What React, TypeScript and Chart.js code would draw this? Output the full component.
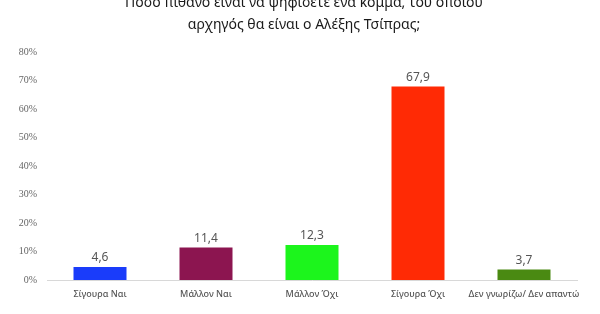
import React, { useEffect, useRef } from "react";
import { Chart, registerables } from "chart.js";

Chart.register(...registerables);

const titleLines = [
  "Πόσο πιθανό είναι να ψηφίσετε ένα κόμμα, του οποίου",
  "αρχηγός θα είναι ο Αλέξης Τσίπρας;",
];
const categories = ["Σίγουρα Ναι", "Μάλλον Ναι", "Μάλλον Όχι", "Σίγουρα Όχι", "Δεν γνωρίζω/ Δεν απαντώ"];
const values = [4.6, 11.4, 12.3, 67.9, 3.7];
const barColors = ["#1a3cfa", "#8c1550", "#1cf51c", "#ff2a05", "#4a8a12"];
const yMax = 80;
const yStep = 10;

const titlePlugin = {
  id: "customTitle",
  afterDraw(chart: any) {
    const ctx = chart.ctx;
    ctx.save();
    ctx.fillStyle = "#1a1a1a";
    ctx.font = "14px 'Noto Sans'";
    ctx.textAlign = "center";
    ctx.textBaseline = "middle";
    titleLines.forEach((t, i) => ctx.fillText(t, 304, 3 + i * 22));
    ctx.restore();
  },
};

const valueLabels = {
  id: "valueLabels",
  afterDatasetsDraw(chart: any) {
    const ctx = chart.ctx;
    const meta = chart.getDatasetMeta(0);
    ctx.save();
    ctx.fillStyle = "#555";
    ctx.font = "12px 'Noto Sans'";
    ctx.textAlign = "center";
    ctx.textBaseline = "bottom";
    meta.data.forEach((el: any, i: number) => {
      const v = chart.data.datasets[0].data[i];
      ctx.fillText(String(v).replace(".", ","), el.x, el.y - 3);
    });
    ctx.restore();
  },
};

export default function App() {
  const ref = useRef<HTMLCanvasElement>(null);
  useEffect(() => {
    document.body.style.margin = "0";
    const chart = new Chart(ref.current!, {
      type: "bar",
      data: {
        labels: categories,
        datasets: [
          {
            data: values,
            backgroundColor: barColors,
            categoryPercentage: 1,
            barPercentage: 0.5,
          },
        ],
      },
      options: {
        animation: false,
        responsive: false,
        layout: { padding: { top: 52, right: 23, left: 0, bottom: 0 } },
        plugins: { legend: { display: false }, tooltip: { enabled: false }, title: { display: false } },
        scales: {
          x: {
            grid: { display: false },
            border: { color: "#d8d8d8" },
            ticks: {
              color: "#555",
              font: { family: "'Noto Sans'", size: 9, weight: "500" },
              padding: 1,
              maxRotation: 0,
              autoSkip: false,
            },
            afterFit: (s: any) => {
              s.height = 34;
            },
          },
          y: {
            min: 0,
            max: yMax,
            grid: { display: false },
            border: { display: false },
            ticks: {
              stepSize: yStep,
              color: "#666",
              font: { family: "'Liberation Serif'", size: 10 },
              padding: 2,
              callback: (v: any) => v + "%",
            },
            afterFit: (s: any) => {
              s.width = 47;
            },
          },
        },
      },
      plugins: [titlePlugin, valueLabels],
    });
    return () => chart.destroy();
  }, []);
  return (
    <div style={{ width: 600, height: 314 }}>
      <canvas ref={ref} width={600} height={314} />
    </div>
  );
}
